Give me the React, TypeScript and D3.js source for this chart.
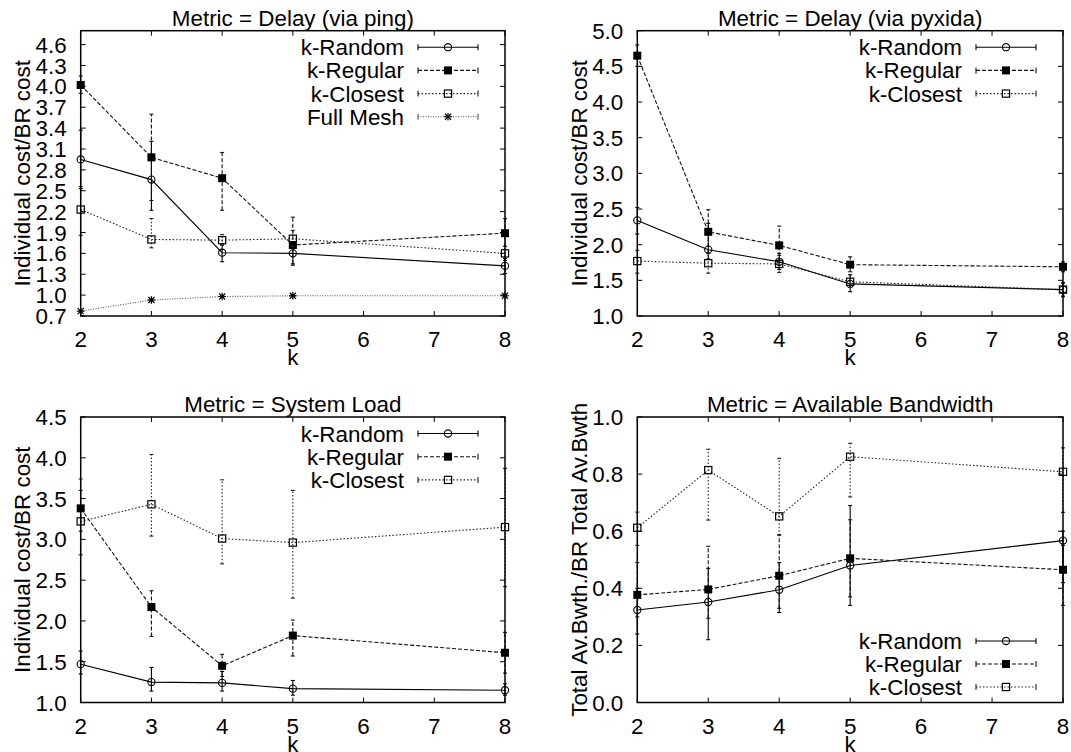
import React from 'react';
import * as d3 from 'd3';

const K = [2, 3, 4, 5, 8];
const X_TICKS = [2, 3, 4, 5, 6, 7, 8];

// Panel 1: Delay (via ping)
const pingRandom = [2.95, 2.66, 1.61, 1.6, 1.42];
const pingRandomLo = [2.53, 2.22, 1.48, 1.43, 1.31];
const pingRandomHi = [3.37, 3.21, 1.72, 1.76, 1.53];
const pingRegular = [4.02, 2.98, 2.68, 1.72, 1.89];
const pingRegularLo = [3.9, 2.36, 2.22, 1.45, 1.7];
const pingRegularHi = [4.15, 3.6, 3.05, 2.12, 2.1];
const pingClosest = [2.23, 1.8, 1.79, 1.81, 1.6];
const pingClosestLo = [1.86, 1.68, 1.72, 1.7, 1.5];
const pingClosestHi = [2.56, 2.1, 1.87, 1.93, 1.7];
const pingFull = [0.77, 0.93, 0.98, 0.99, 0.99];
const pingFullLo = [0.76, 0.92, 0.97, 0.98, 0.98];
const pingFullHi = [0.78, 0.94, 0.99, 1.0, 1.0];
const pingTicks = [0.7, 1.0, 1.3, 1.6, 1.9, 2.2, 2.5, 2.8, 3.1, 3.4, 3.7, 4.0, 4.3, 4.6];

// Panel 2: Delay (via pyxida)
const pyxRandom = [2.34, 1.93, 1.76, 1.45, 1.37];
const pyxRandomLo = [2.15, 1.8, 1.65, 1.34, 1.27];
const pyxRandomHi = [2.52, 2.3, 1.88, 1.58, 1.47];
const pyxRegular = [4.65, 2.18, 1.99, 1.72, 1.69];
const pyxRegularLo = [4.5, 1.88, 1.75, 1.62, 1.62];
const pyxRegularHi = [4.8, 2.49, 2.26, 1.83, 1.76];
const pyxClosest = [1.77, 1.74, 1.73, 1.48, 1.37];
const pyxClosestLo = [1.6, 1.6, 1.61, 1.4, 1.28];
const pyxClosestHi = [1.92, 1.88, 1.85, 1.58, 1.46];
const pyxTicks = [1.0, 1.5, 2.0, 2.5, 3.0, 3.5, 4.0, 4.5, 5.0];

// Panel 3: System Load
const loadRandom = [1.47, 1.25, 1.24, 1.17, 1.15];
const loadRandomLo = [1.35, 1.14, 1.14, 1.09, 1.09];
const loadRandomHi = [1.63, 1.43, 1.38, 1.27, 1.23];
const loadRegular = [3.38, 2.17, 1.45, 1.82, 1.61];
const loadRegularLo = [3.1, 1.81, 1.32, 1.57, 1.36];
const loadRegularHi = [3.6, 2.37, 1.59, 2.01, 1.86];
const loadClosest = [3.22, 3.43, 3.01, 2.96, 3.15];
const loadClosestLo = [2.81, 3.04, 2.7, 2.28, 2.42];
const loadClosestHi = [3.74, 4.04, 3.73, 3.6, 3.87];
const loadTicks = [1.0, 1.5, 2.0, 2.5, 3.0, 3.5, 4.0, 4.5];

// Panel 4: Available Bandwidth
const bwRandom = [0.324, 0.352, 0.395, 0.48, 0.567];
const bwRandomLo = [0.24, 0.22, 0.315, 0.34, 0.42];
const bwRandomHi = [0.4, 0.47, 0.49, 0.69, 0.6];
const bwRegular = [0.377, 0.396, 0.444, 0.505, 0.465];
const bwRegularLo = [0.3, 0.295, 0.33, 0.37, 0.34];
const bwRegularHi = [0.49, 0.547, 0.588, 0.64, 0.55];
const bwClosest = [0.612, 0.814, 0.652, 0.861, 0.808];
const bwClosestLo = [0.55, 0.639, 0.586, 0.72, 0.666];
const bwClosestHi = [0.667, 0.887, 0.855, 0.908, 0.892];
const bwTicks = [0.0, 0.2, 0.4, 0.6, 0.8, 1.0];

const FONT = '"Liberation Sans", Arial, Helvetica, sans-serif';
const FS = 22.4;

type Kind = 'random' | 'regular' | 'closest' | 'full';
const STYLE: Record<Kind, { dash: string | undefined; color: string; width: number }> = {
  random: { dash: undefined, color: '#000', width: 1.1 },
  regular: { dash: '4,2', color: '#111', width: 1.1 },
  closest: { dash: '1.5,2', color: '#222', width: 1.1 },
  full: { dash: '1,1.5', color: '#555', width: 1.1 },
};
const NAMES: Record<Kind, string> = {
  random: 'k-Random',
  regular: 'k-Regular',
  closest: 'k-Closest',
  full: 'Full Mesh',
};

interface Series {
  kind: Kind;
  v: number[];
  lo: number[];
  hi: number[];
}

function Marker({ kind, x, y }: { kind: Kind; x: number; y: number }) {
  if (kind === 'random') return <circle cx={x} cy={y} r={3.6} fill="none" stroke="#000" strokeWidth={1.1} />;
  if (kind === 'regular') return <rect x={x - 4} y={y - 4} width={8} height={8} fill="#000" />;
  if (kind === 'closest')
    return <rect x={x - 3.6} y={y - 3.6} width={7.2} height={7.2} fill="none" stroke="#000" strokeWidth={1.2} />;
  const s = 3.8;
  return (
    <g stroke="#000" strokeWidth={1.2}>
      <line x1={x - s} y1={y} x2={x + s} y2={y} />
      <line x1={x} y1={y - s} x2={x} y2={y + s} />
      <line x1={x - s * 0.8} y1={y - s * 0.8} x2={x + s * 0.8} y2={y + s * 0.8} />
      <line x1={x - s * 0.8} y1={y + s * 0.8} x2={x + s * 0.8} y2={y - s * 0.8} />
    </g>
  );
}

interface PanelProps {
  x0: number;
  x1: number;
  y0: number;
  y1: number;
  yDomain: [number, number];
  yTicks: number[];
  title: string;
  ylabel: string;
  ylabelX: number;
  series: Series[];
  legendTop: boolean;
}

function Panel(p: PanelProps) {
  const x = d3.scaleLinear().domain([2, 8]).range([p.x0, p.x1]);
  const y = d3.scaleLinear().domain(p.yDomain).range([p.y1, p.y0]);
  const line = d3
    .line<number>()
    .x((_, i) => x(K[i]))
    .y((d) => y(d));
  const cx = (p.x0 + p.x1) / 2;
  const cy = (p.y0 + p.y1) / 2;
  const tl = 5;
  const legendY = (i: number) => (p.legendTop ? p.y0 + 16.5 + i * 23.2 : p.y1 - 61.5 + i * 23);
  return (
    <g>
      <text x={cx} y={p.y0 - 5} textAnchor="middle" fontSize={FS} fontFamily={FONT}>
        {p.title}
      </text>
      {p.yTicks.map((t) => (
        <g key={'y' + t}>
          <line x1={p.x0} x2={p.x0 + tl} y1={y(t)} y2={y(t)} stroke="#000" strokeWidth={1} />
          <line x1={p.x1} x2={p.x1 - tl} y1={y(t)} y2={y(t)} stroke="#000" strokeWidth={1} />
          <text x={p.x0 - 14} y={y(t)} dy="0.36em" textAnchor="end" fontSize={FS} fontFamily={FONT}>
            {d3.format('.1f')(t)}
          </text>
        </g>
      ))}
      {X_TICKS.map((t) => (
        <g key={'x' + t}>
          <line x1={x(t)} x2={x(t)} y1={p.y1} y2={p.y1 - tl} stroke="#000" strokeWidth={1} />
          <line x1={x(t)} x2={x(t)} y1={p.y0} y2={p.y0 + tl} stroke="#000" strokeWidth={1} />
          <text x={x(t)} y={p.y1 + 31} textAnchor="middle" fontSize={FS} fontFamily={FONT}>
            {t}
          </text>
        </g>
      ))}
      <text x={cx} y={p.y1 + 49} textAnchor="middle" fontSize={FS} fontFamily={FONT}>
        k
      </text>
      <text
        x={p.ylabelX}
        y={cy}
        transform={`rotate(-90 ${p.ylabelX} ${cy})`}
        textAnchor="middle"
        fontSize={FS}
        fontFamily={FONT}
      >
        {p.ylabel}
      </text>
      {p.series.map((s) => {
        const st = STYLE[s.kind];
        return (
          <g key={s.kind}>
            {K.map((k, i) => (
              <g key={i} stroke={st.color} strokeWidth={st.width}>
                <line x1={x(k)} x2={x(k)} y1={y(s.lo[i])} y2={y(s.hi[i])} strokeDasharray={st.dash} />
                <line x1={x(k) - 2} x2={x(k) + 2} y1={y(s.lo[i])} y2={y(s.lo[i])} />
                <line x1={x(k) - 2} x2={x(k) + 2} y1={y(s.hi[i])} y2={y(s.hi[i])} />
              </g>
            ))}
            <path d={line(s.v) || ''} fill="none" stroke={st.color} strokeWidth={st.width} strokeDasharray={st.dash} />
            {K.map((k, i) => (
              <Marker key={i} kind={s.kind} x={x(k)} y={y(s.v[i])} />
            ))}
          </g>
        );
      })}
      {p.series.map((s, i) => {
        const st = STYLE[s.kind];
        const ly = legendY(i);
        const la = p.x1 - 87;
        const lb = p.x1 - 27;
        return (
          <g key={'lg' + s.kind}>
            <text x={p.x1 - 101} y={ly} dy="0.36em" textAnchor="end" fontSize={FS} fontFamily={FONT}>
              {NAMES[s.kind]}
            </text>
            <g stroke={st.color} strokeWidth={st.width}>
              <line x1={la} x2={lb} y1={ly} y2={ly} strokeDasharray={st.dash} />
              <line x1={la} x2={la} y1={ly - 3} y2={ly + 3} />
              <line x1={lb} x2={lb} y1={ly - 3} y2={ly + 3} />
            </g>
            <Marker kind={s.kind} x={(la + lb) / 2} y={ly} />
          </g>
        );
      })}
      <rect x={p.x0} y={p.y0} width={p.x1 - p.x0} height={p.y1 - p.y0} fill="none" stroke="#000" strokeWidth={1.5} />
    </g>
  );
}

export default function App() {
  const L = { x0: 80.7, x1: 505 };
  const R = { x0: 637.3, x1: 1063 };
  const T = { y0: 30.7, y1: 316 };
  const B = { y0: 417, y1: 702.5 };
  return (
    <svg
      width={1071}
      height={752}
      style={{ position: 'absolute', left: 0, top: 0, background: '#fff' }}
      xmlns="http://www.w3.org/2000/svg"
    >
      <rect width={1071} height={752} fill="#fff" />
      <Panel
        {...L}
        {...T}
        yDomain={[0.7, 4.8]}
        yTicks={pingTicks}
        title="Metric = Delay (via ping)"
        ylabel="Individual cost/BR cost"
        ylabelX={30}
        legendTop
        series={[
          { kind: 'random', v: pingRandom, lo: pingRandomLo, hi: pingRandomHi },
          { kind: 'regular', v: pingRegular, lo: pingRegularLo, hi: pingRegularHi },
          { kind: 'closest', v: pingClosest, lo: pingClosestLo, hi: pingClosestHi },
          { kind: 'full', v: pingFull, lo: pingFullLo, hi: pingFullHi },
        ]}
      />
      <Panel
        {...R}
        {...T}
        yDomain={[1.0, 5.0]}
        yTicks={pyxTicks}
        title="Metric = Delay (via pyxida)"
        ylabel="Individual cost/BR cost"
        ylabelX={587}
        legendTop
        series={[
          { kind: 'random', v: pyxRandom, lo: pyxRandomLo, hi: pyxRandomHi },
          { kind: 'regular', v: pyxRegular, lo: pyxRegularLo, hi: pyxRegularHi },
          { kind: 'closest', v: pyxClosest, lo: pyxClosestLo, hi: pyxClosestHi },
        ]}
      />
      <Panel
        {...L}
        {...B}
        yDomain={[1.0, 4.5]}
        yTicks={loadTicks}
        title="Metric = System Load"
        ylabel="Individual cost/BR cost"
        ylabelX={30}
        legendTop
        series={[
          { kind: 'random', v: loadRandom, lo: loadRandomLo, hi: loadRandomHi },
          { kind: 'regular', v: loadRegular, lo: loadRegularLo, hi: loadRegularHi },
          { kind: 'closest', v: loadClosest, lo: loadClosestLo, hi: loadClosestHi },
        ]}
      />
      <Panel
        {...R}
        {...B}
        yDomain={[0.0, 1.0]}
        yTicks={bwTicks}
        title="Metric = Available Bandwidth"
        ylabel="Total Av.Bwth./BR Total Av.Bwth"
        ylabelX={587}
        legendTop={false}
        series={[
          { kind: 'random', v: bwRandom, lo: bwRandomLo, hi: bwRandomHi },
          { kind: 'regular', v: bwRegular, lo: bwRegularLo, hi: bwRegularHi },
          { kind: 'closest', v: bwClosest, lo: bwClosestLo, hi: bwClosestHi },
        ]}
      />
    </svg>
  );
}
